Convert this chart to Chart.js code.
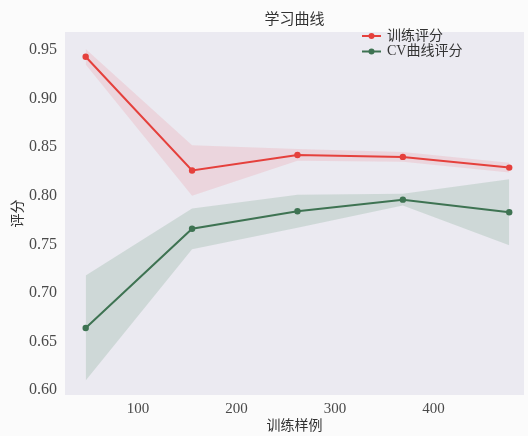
<!DOCTYPE html>
<html>
<head>
<meta charset="utf-8">
<script src="https://cdn.jsdelivr.net/npm/chart.js@4.4.1/dist/chart.umd.min.js"></script>
<style>
  html, body { margin: 0; padding: 0; background: #fbfbfb; overflow: hidden; }
  canvas { display: block; }
</style>
</head>
<body>
<canvas id="c" width="528" height="436"></canvas>
<script>
// Learning curve: training-set sizes and mean / std of scores
const trainSizes = [47, 155, 262, 369, 477];
const trainScore = [0.943, 0.826, 0.842, 0.840, 0.829];
const trainStd   = [0.008, 0.026, 0.006, 0.005, 0.005];
const cvScore    = [0.664, 0.766, 0.784, 0.796, 0.783];
const cvStd      = [0.054, 0.021, 0.017, 0.006, 0.034];

const titleText  = '学习曲线';
const xTitle     = '训练样例';
const yTitle     = '评分';
const trainLabel = '训练评分';
const cvLabel    = 'CV曲线评分';

const RED = '#e5403c';
const GREEN = '#3e7352';
const SERIF = '"Liberation Serif", "Noto Sans CJK SC", serif';
const TEXT = '#4a4a4a';

const pts = (ys) => trainSizes.map((x, i) => ({ x, y: ys[i] }));
const band = (m, s, sign) => m.map((v, i) => v + sign * s[i]);

const bandStyle = (color) => ({
  borderWidth: 0, pointRadius: 0, backgroundColor: color, showLine: true, inLegend: false
});

const RED_BAND = 'rgba(240, 110, 125, 0.17)';
const GREEN_BAND = 'rgba(80, 140, 100, 0.18)';

const datasets = [
  Object.assign({ data: pts(band(trainScore, trainStd, 1)), fill: '+1', order: 5 }, bandStyle(RED_BAND)),
  Object.assign({ data: pts(band(trainScore, trainStd, -1)), fill: false, order: 5 }, bandStyle(RED_BAND)),
  Object.assign({ data: pts(band(cvScore, cvStd, 1)), fill: '+1', order: 5 }, bandStyle(GREEN_BAND)),
  Object.assign({ data: pts(band(cvScore, cvStd, -1)), fill: false, order: 5 }, bandStyle(GREEN_BAND)),
  { label: trainLabel, data: pts(trainScore), borderColor: RED, backgroundColor: RED,
    borderWidth: 2, pointRadius: 3.2, pointBorderWidth: 0, fill: false, order: 1, inLegend: true },
  { label: cvLabel, data: pts(cvScore), borderColor: GREEN, backgroundColor: GREEN,
    borderWidth: 2, pointRadius: 3.2, pointBorderWidth: 0, fill: false, order: 1, inLegend: true }
];

// Plot-area background
const plotBg = {
  id: 'plotBg',
  beforeDraw(chart) {
    const { ctx, chartArea: a } = chart;
    ctx.save();
    ctx.fillStyle = '#ebeaf1';
    ctx.fillRect(a.left, a.top, a.right - a.left, a.bottom - a.top);
    ctx.restore();
  }
};

// Legend drawn inside the upper right of the plot
const innerLegend = {
  id: 'innerLegend',
  afterDraw(chart) {
    const { ctx } = chart;
    const items = chart.data.datasets.filter(d => d.inLegend);
    ctx.save();
    ctx.font = '14px ' + SERIF;
    ctx.textBaseline = 'middle';
    items.forEach((d, i) => {
      const y = 36 + i * 15.5;
      const x0 = 362;
      ctx.strokeStyle = d.borderColor;
      ctx.lineWidth = 2;
      ctx.beginPath();
      ctx.moveTo(x0, y);
      ctx.lineTo(x0 + 19, y);
      ctx.stroke();
      ctx.fillStyle = d.borderColor;
      ctx.beginPath();
      ctx.arc(x0 + 9.5, y, 3, 0, Math.PI * 2);
      ctx.fill();
      ctx.fillStyle = '#333';
      ctx.fillText(d.label, x0 + 25, y);
    });
    ctx.restore();
  }
};

new Chart(document.getElementById('c'), {
  type: 'line',
  data: { datasets },
  options: {
    responsive: false,
    animation: false,
    layout: { padding: { left: 0, right: 0, top: 0, bottom: 0 } },
    plugins: {
      legend: { display: false },
      tooltip: { enabled: false },
      title: {
        display: true, text: titleText, fullSize: false,
        color: '#333', font: { family: SERIF, size: 15, weight: 'normal' },
        padding: { top: 11, bottom: 3 }
      },
      filler: { propagate: false }
    },
    scales: {
      x: {
        type: 'linear', min: 26, max: 492,
        afterFit(s) { s.height = 41; },
        grid: { display: false, drawTicks: false },
        border: { display: false },
        ticks: {
          stepSize: 100, includeBounds: false, padding: 5,
          color: TEXT, font: { family: SERIF, size: 15 },
          callback: v => String(v)
        },
        title: {
          display: true, text: xTitle, color: '#333',
          font: { family: SERIF, size: 14 }, padding: { top: 0, bottom: 1 }
        }
      },
      y: {
        type: 'linear', min: 0.595, max: 0.9685,
        afterFit(s) { s.width = 65; },
        grid: { display: false, drawTicks: false },
        border: { display: false },
        ticks: {
          stepSize: 0.05, includeBounds: false, padding: 8,
          color: TEXT, font: { family: SERIF, size: 16 },
          callback: v => v.toFixed(2)
        },
        title: {
          display: true, text: yTitle, color: '#333',
          font: { family: SERIF, size: 14 }, padding: { top: 10, bottom: 0 }
        }
      }
    }
  },
  plugins: [plotBg, innerLegend]
});
</script>
</body>
</html>
